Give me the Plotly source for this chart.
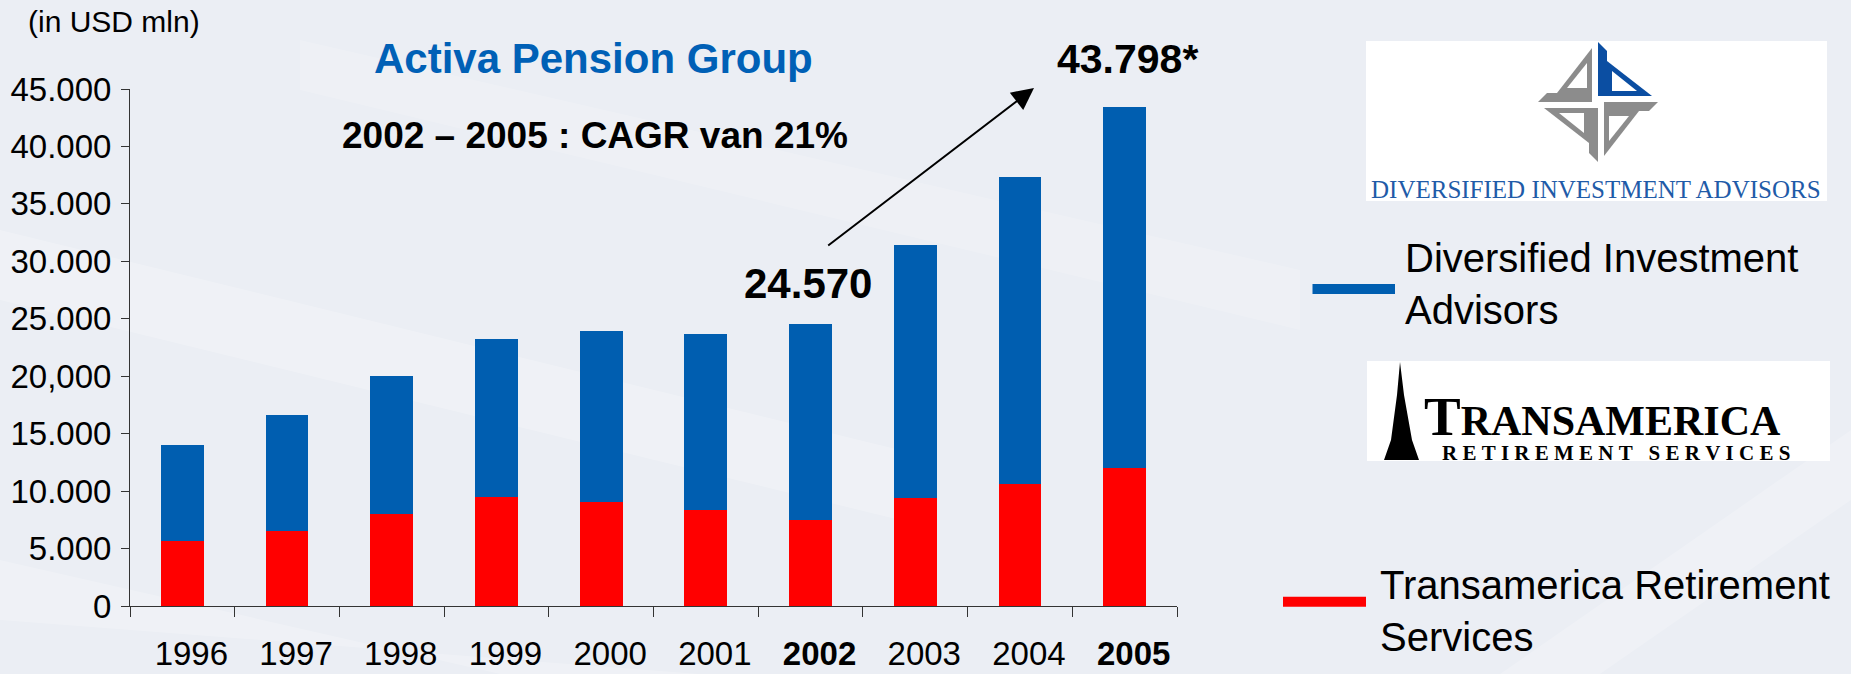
import plotly.graph_objects as go

# ---------------- data ----------------
years = ["1996", "1997", "1998", "1999", "2000", "2001", "2002", "2003", "2004", "2005"]
bold_years = ["2002", "2005"]
transamerica = [5700, 6570, 8020, 9530, 9070, 8370, 7500, 9360, 10640, 12030]
diversified = [8340, 10020, 11980, 13710, 14830, 15290, 17070, 22020, 26670, 31420]
ytick_vals = [0, 5000, 10000, 15000, 20000, 25000, 30000, 35000, 40000, 45000]
ytick_text = ["0", "5.000", "10.000", "15.000", "20,000", "25.000", "30.000", "35.000", "40.000", "45.000"]
xtick_text = [f"<b>{y}</b>" if y in bold_years else y for y in years]

# ---------------- geometry helpers ----------------
W, H = 1851, 674
ML, MT = 130, 89
PR, PB = 1177, 606
PW, PH = PR - ML, PB - MT
MR, MB = W - PR, H - PB


def px(X):
    return (X - ML) / PW


def py(Y):
    return 1 - (Y - MT) / PH


FONT = "Arial, 'Liberation Sans', sans-serif"
SERIF = "'Times New Roman', 'Liberation Serif', serif"
BLUE = "#005EB0"
RED = "#FF0000"

fig = go.Figure()
fig.add_trace(go.Bar(x=years, y=transamerica, name="Transamerica Retirement Services",
                     marker=dict(color=RED, line=dict(width=0))))
fig.add_trace(go.Bar(x=years, y=diversified, name="Diversified Investment Advisors",
                     marker=dict(color=BLUE, line=dict(width=0))))

shapes = []
annotations = []

# subtle background streaks
for pts, op in [
    ([(0, 230), (0, 300), (900, 520), (900, 450)], 0.22),
    ([(300, 40), (300, 90), (1300, 330), (1300, 270)], 0.16),
    ([(0, 560), (0, 620), (700, 674), (500, 674)], 0.2),
    ([(1500, 674), (1851, 430), (1851, 500), (1600, 674)], 0.2),
]:
    d = "M " + " L ".join(f"{px(x)},{py(y)}" for x, y in pts) + " Z"
    shapes.append(dict(type="path", xref="paper", yref="paper", path=d, fillcolor="white",
                       opacity=op, line=dict(width=0), layer="below"))


def poly(pts_screen, color):
    d = "M " + " L ".join(f"{px(x)},{py(y)}" for x, y in pts_screen) + " Z"
    return dict(type="path", xref="paper", yref="paper", path=d, fillcolor=color,
                line=dict(width=0), layer="above")


# ---- Diversified logo ----
shapes.append(dict(type="rect", xref="paper", yref="paper", x0=px(1366), x1=px(1827),
                   y0=py(201), y1=py(41), fillcolor="white", line=dict(width=0), layer="above"))
cx, cy = 1598, 102
stem = [(0, 6), (9, 6), (9, 51), (0, 60)]
tri_out = [(9, 6), (54, 6), (9, 41)]
tri_in = [(14, 11), (39, 11), (14, 31)]


def rot(p, k):
    x, y = p
    for _ in range(k):
        x, y = y, -x
    return (x, y)


def scr(p):
    return (cx + p[0], cy - p[1])


for k in range(4):
    col = "#0B4EA2" if k == 0 else "#8C8C8C"
    shapes.append(poly([scr(rot(p, k)) for p in stem], col))
    shapes.append(poly([scr(rot(p, k)) for p in tri_out], col))
for k in range(4):
    shapes.append(poly([scr(rot(p, k)) for p in tri_in], "white"))

annotations.append(dict(xref="paper", yref="paper", x=px(1596), y=py(189.6), xanchor="center",
                        yanchor="middle", text="DIVERSIFIED INVESTMENT ADVISORS", showarrow=False,
                        font=dict(family=SERIF, size=25, color="#1F5BA8")))

# ---- Transamerica logo ----
shapes.append(dict(type="rect", xref="paper", yref="paper", x0=px(1367), x1=px(1830),
                   y0=py(461), y1=py(361), fillcolor="white", line=dict(width=0), layer="above"))
shapes.append(poly([(1400, 362), (1404, 395), (1412, 440), (1419, 460), (1384, 460),
                    (1391, 440), (1397, 395)], "black"))
annotations.append(dict(xref="paper", yref="paper", x=px(1422), y=py(449), xanchor="left",
                        yanchor="bottom",
                        text="<span style='font-size:55px'>T</span>RANSAMERICA", showarrow=False,
                        font=dict(family=SERIF, size=42, color="black", weight="bold")))
annotations.append(dict(xref="paper", yref="paper", x=px(1440), y=py(452.9), xanchor="left",
                        yanchor="middle",
                        text="\u00a0".join("RETIREMENT") + "\u00a0\u00a0\u00a0" + "\u00a0".join("SERVICES"),
                        showarrow=False, font=dict(family=SERIF, size=21, color="black", weight="bold")))

# ---- legend (drawn) ----
shapes.append(dict(type="line", xref="paper", yref="paper", x0=px(1312.5), x1=px(1395),
                   y0=py(289), y1=py(289), line=dict(color=BLUE, width=10), layer="above"))
shapes.append(dict(type="line", xref="paper", yref="paper", x0=px(1283), x1=px(1366),
                   y0=py(601.7), y1=py(601.7), line=dict(color=RED, width=10), layer="above"))
annotations.append(dict(xref="paper", yref="paper", x=px(1403), y=py(283.8), xanchor="left",
                        yanchor="middle", align="left", text="Diversified Investment<br>Advisors",
                        showarrow=False, font=dict(family=FONT, size=40, color="black")))
annotations.append(dict(xref="paper", yref="paper", x=px(1378), y=py(610.6), xanchor="left",
                        yanchor="middle", align="left", text="Transamerica Retirement<br>Services",
                        showarrow=False, font=dict(family=FONT, size=40, color="black")))

# ---- titles / labels ----
annotations.append(dict(xref="paper", yref="paper", x=px(26), y=py(21.6), xanchor="left",
                        yanchor="middle", text="(in USD mln)", showarrow=False,
                        font=dict(family=FONT, size=30, color="black")))
annotations.append(dict(xref="paper", yref="paper", x=px(593), y=py(58.6), xanchor="center",
                        yanchor="middle", text="<b>Activa Pension Group</b>", showarrow=False,
                        font=dict(family=FONT, size=42, color="#0060B6")))
annotations.append(dict(xref="paper", yref="paper", x=px(595), y=py(135.8), xanchor="center",
                        yanchor="middle", text="<b>2002 \u2013 2005 : CAGR van 21%</b>", showarrow=False,
                        font=dict(family=FONT, size=37, color="black")))
annotations.append(dict(xref="paper", yref="paper", x=px(1127), y=py(59), xanchor="center",
                        yanchor="middle", text="<b>43.798*</b>", showarrow=False,
                        font=dict(family=FONT, size=41, color="black")))
annotations.append(dict(xref="paper", yref="paper", x=px(807.5), y=py(283.7), xanchor="center",
                        yanchor="middle", text="<b>24.570</b>", showarrow=False,
                        font=dict(family=FONT, size=42, color="black")))
# arrow
annotations.append(dict(xref="paper", yref="paper", x=px(1034), y=py(88), ax=826.7 - 1034,
                        ay=246.7 - 88, axref="pixel", ayref="pixel", text="", showarrow=True,
                        arrowhead=2, arrowsize=2.2, arrowwidth=2, arrowcolor="black", standoff=0,
                        startstandoff=0))

fig.update_layout(
    width=W, height=H,
    margin=dict(l=ML, r=MR, t=MT, b=MB, pad=0, autoexpand=False),
    barmode="stack", bargap=0.592,
    showlegend=False,
    paper_bgcolor="#EBEEF4", plot_bgcolor="rgba(0,0,0,0)",
    font=dict(family=FONT, color="black"),
    shapes=shapes, annotations=annotations,
    xaxis=dict(type="category", tickmode="array", tickvals=years, ticktext=xtick_text,
               tickson="boundaries", ticks="outside", ticklen=10, tickcolor="#333",
               showline=True, linecolor="#333", linewidth=1, showgrid=False, zeroline=False,
               automargin=False,
               tickfont=dict(size=33, family=FONT, color="black"),
               ticklabelshift=9, ticklabelstandoff=18),
    yaxis=dict(range=[0, 45000], tickmode="array", tickvals=ytick_vals, ticktext=ytick_text,
               ticks="outside", ticklen=8, tickcolor="#333", showline=True, linecolor="#333",
               linewidth=1, showgrid=False, zeroline=False, automargin=False,
               tickfont=dict(size=33, family=FONT, color="black"), ticklabelstandoff=3),
)

post = (
    "document.documentElement.style.margin='0';document.documentElement.style.padding='0';"
    "document.documentElement.style.overflow='hidden';"
    "document.body.style.margin='0';document.body.style.padding='0';document.body.style.overflow='hidden';"
    "var gd=document.getElementsByClassName('plotly-graph-div')[0];"
    "gd.style.position='fixed';gd.style.left='0px';gd.style.top='0px';"
)
fig.write_html("out.html", config={"displayModeBar": False}, post_script=post)
